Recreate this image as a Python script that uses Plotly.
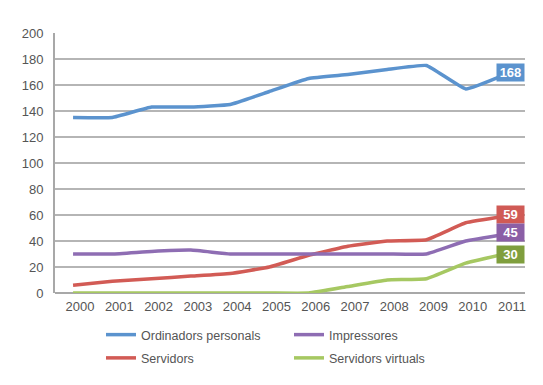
import plotly.graph_objects as go

years = list(range(2000, 2012))
ordinadors = [135, 135, 143, 143, 145, 155, 165, 168, 172, 175, 157, 168]
servidors = [6, 9, 11, 13, 15, 20, 29, 36, 40, 41, 54, 59]
impressores = [30, 30, 32, 33, 30, 30, 30, 30, 30, 30, 40, 45]
virtuals = [0, 0, 0, 0, 0, 0, 0, 5, 10, 11, 23, 30]
y_ticks = [0, 20, 40, 60, 80, 100, 120, 140, 160, 180, 200]

# name, values, line colour, label colour, label nudge, legend
series = [
    ("Ordinadors personals", ordinadors, "#5B93CE", "#5B93CE", 1.4, "legend"),
    ("Servidors", servidors, "#D25B55", "#D05A55", 1.4, "legend"),
    ("Impressores", impressores, "#8E6DB3", "#8B5FA6", 1.6, "legend2"),
    ("Servidors virtuals", virtuals, "#A6C862", "#7F9E3D", -0.7, "legend2"),
]

W, H = 527, 369

fig = go.Figure()
for name, vals, col, boxcol, dy, leg in series:
    fig.add_trace(go.Scatter(
        x=years, y=vals, name=name, mode="lines", legend=leg, legendgroup=name,
        line=dict(color=col, width=3.5, shape="spline", smoothing=0.3),
    ))
    fig.add_annotation(
        x=years[-1], y=vals[-1] + dy, text="<b>%d</b>" % vals[-1],
        showarrow=False, xshift=6, bgcolor=boxcol, borderpad=2,
        font=dict(color="white", size=13, family="Liberation Sans, Arial"),
        width=23, height=13,
    )

legfont = dict(size=12.5, color="#555555", family="Liberation Sans, Arial")
fig.update_layout(
    width=W, height=H,
    margin=dict(l=47, r=10, t=25, b=84, autoexpand=False),
    plot_bgcolor="white", paper_bgcolor="white",
    font=dict(family="Liberation Sans, Arial", size=13, color="#555555"),
    showlegend=True,
    legend=dict(
        xref="container", yref="container", x=93 / W, xanchor="left",
        y=(H - 312) / H, yanchor="top", font=legfont,
        tracegroupgap=4, itemwidth=30, traceorder="grouped",
    ),
    legend2=dict(
        xref="container", yref="container", x=281 / W, xanchor="left",
        y=(H - 312) / H, yanchor="top", font=legfont,
        tracegroupgap=4, itemwidth=30, traceorder="grouped",
    ),
)
fig.update_xaxes(
    range=[1999.54, 2011.51], tickmode="array", tickvals=years,
    ticktext=[str(y) for y in years], showgrid=False, zeroline=False,
    showline=False, ticks="", ticklabelshift=7, ticklabelstandoff=4,
    automargin=False,
)
fig.update_yaxes(
    range=[0, 200], tickvals=y_ticks, showgrid=True, gridcolor="#B5B5B5",
    gridwidth=1.5, zeroline=True, zerolinecolor="#A8A8A8", zerolinewidth=2,
    showline=True, linecolor="#A8A8A8", linewidth=2, ticks="",
    ticklabelstandoff=7, automargin=False,
)
fig.write_html("out.html")
